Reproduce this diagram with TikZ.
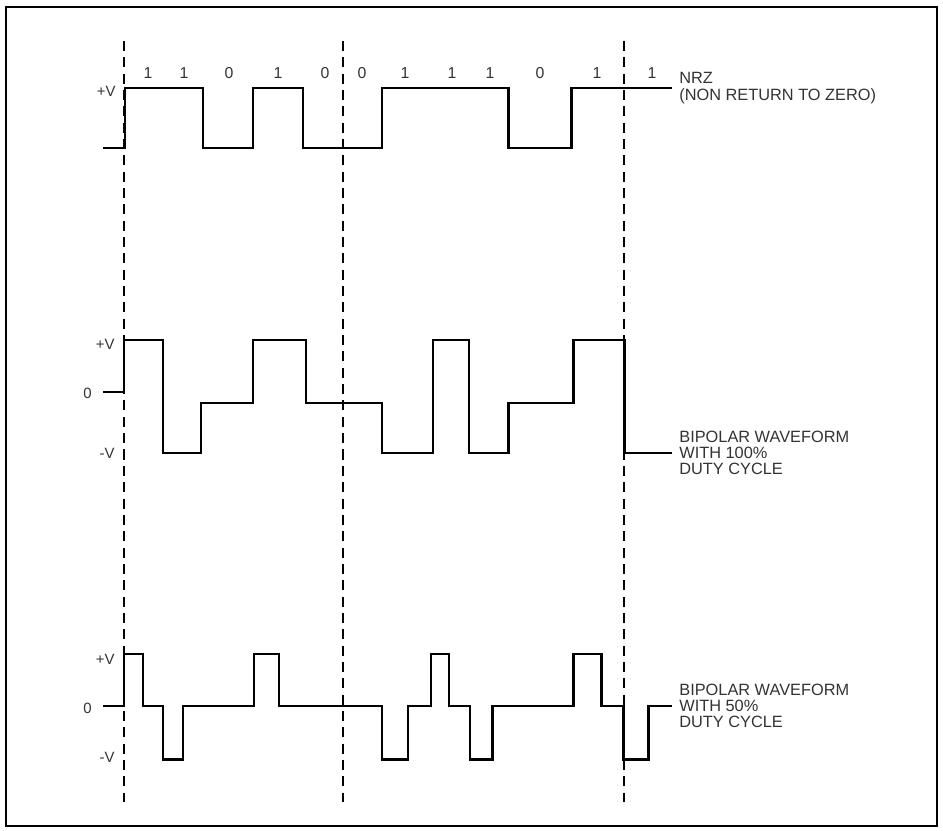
\documentclass[tikz,border=0pt]{standalone}
\usepackage{fontspec}
\setmainfont{Liberation Sans}
\begin{document}
\begin{tikzpicture}[
  x=0.02cm, y=-0.02cm,
  wave/.style={line width=1.7pt, line join=miter},
  guide/.style={line width=0.6pt, dash pattern=on 5.7pt off 3.6pt},
  lvl/.style={anchor=east, inner sep=0pt, font=\fontsize{8.5}{9}\selectfont, text=black!80},
  bit/.style={inner sep=0pt, font=\fontsize{9}{9}\selectfont, text=black!80},
  titel/.style={anchor=west, inner sep=0pt, align=left, font=\fontsize{9.3}{9.2}\selectfont, text=black!80}
]
\useasboundingbox (0,0) rectangle (943,831);
\draw[line width=0.6pt] (6,7) rectangle (937,826);

% bit boundaries
\foreach \x in {124,343,624} \draw[guide] (\x,41) -- (\x,802);

% data bits
\foreach \x/\b [count=\i] in {148/1,184/1,229/0,278/1,325/0,362/0,405/1,452/1,490/1,540/0,597/1,652/1}
  \node[bit] (bit\i) at (\x,73) {\b};

% NRZ
\draw[wave] (103,148) -| (125,88) -| (203,148) -| (253,88) -| (303,148) -| (382,88)
  -| (508,148) -| (571,88) -- (672,88) coordinate (nrzend);
\node[lvl] (nrzhi) at (116,91) {+V};
\node[titel] (nrzlabel) at ([xshift=4]nrzend) {NRZ\\(NON RETURN TO ZERO)};

% bipolar, 100% duty cycle
\draw[wave] (103,392) -| (124,340) -| (163,453) -| (201,403) -| (253,340) -| (306,403)
  -| (382,453) -| (433,340) -| (469,453) -| (508,403) -| (573,340) -| (624,453)
  -- (672,453) coordinate (bpaend);
\node[lvl] (bpahi) at (115,344) {+V};
\node[lvl] (bpazero) at (92,393) {0};
\node[lvl] (bpalo) at (115,453) {-V};
\node[titel] (bpalabel) at ([xshift=4]bpaend) {BIPOLAR WAVEFORM\\WITH 100\%\\DUTY CYCLE};

% bipolar, 50% duty cycle
\draw[wave] (103,706) -| (124,654) -| (143,706) -| (163,759) -| (183,706) -| (254,654)
  -| (279,706) -| (382,759) -| (408,706) -| (431,654) -| (449,706) -| (470,759)
  -| (492,706) -| (573,654) -| (601,706) -| (623,759) -| (648,706)
  -- (672,706) coordinate (bpbend);
\node[lvl] (bpbhi) at (115,659) {+V};
\node[lvl] (bpbzero) at (92,708) {0};
\node[lvl] (bpblo) at (115,757) {-V};
\node[titel] (bpblabel) at ([xshift=4]bpbend) {BIPOLAR WAVEFORM\\WITH 50\%\\DUTY CYCLE};
\end{tikzpicture}
\end{document}
